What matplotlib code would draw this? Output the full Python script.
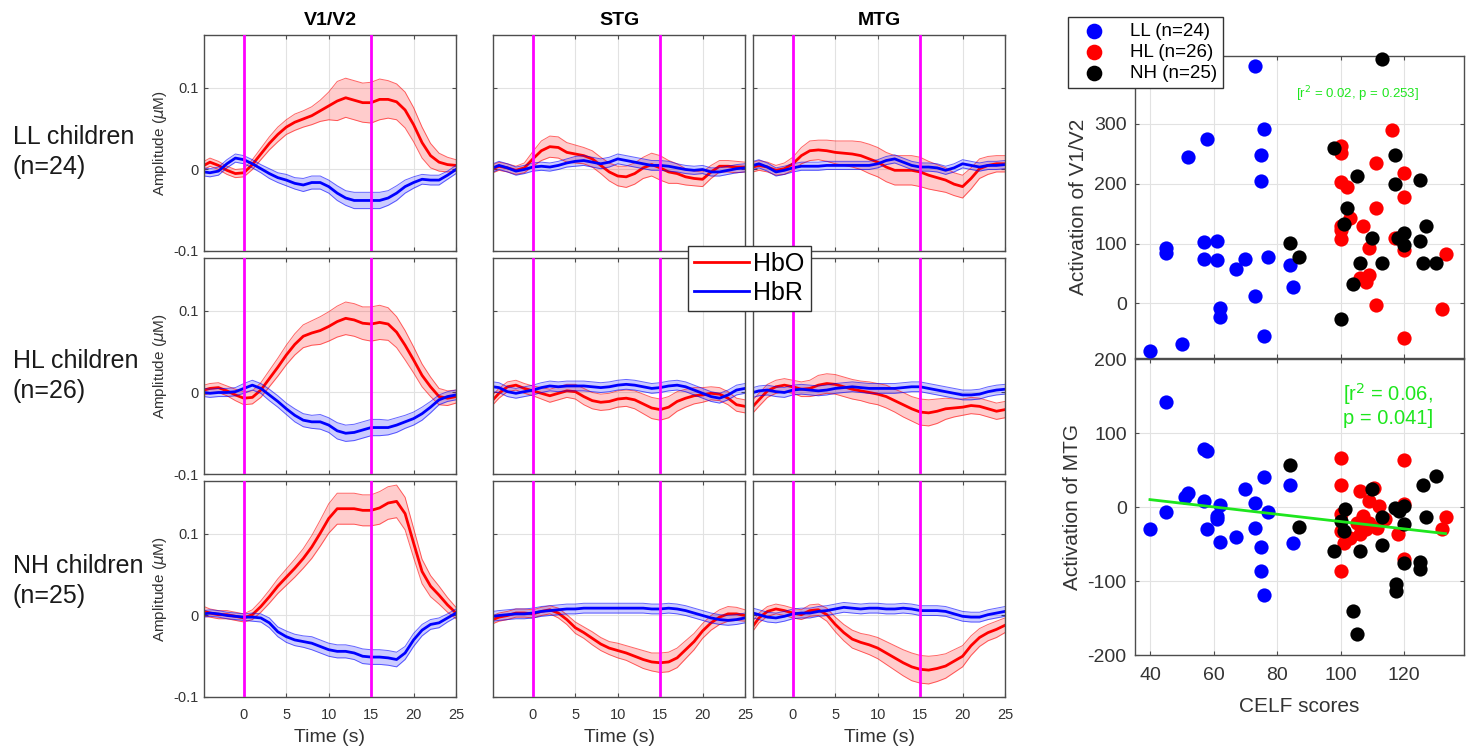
"""fNIRS group averages (HbO / HbR) per region and activation vs CELF scores."""
import matplotlib

matplotlib.use("Agg")
import matplotlib.pyplot as plt
import numpy as np
from matplotlib.lines import Line2D

plt.rcParams.update({"font.family": ["Liberation Sans", "DejaVu Sans"],
                     "axes.unicode_minus": False, "mathtext.fontset": "dejavusans"})

RED, BLUE, MAGENTA, GREEN = "#ff0000", "#0000ff", "#ff00ff", "#1ee61e"
SPINE, TICKC, GRIDC = "#4d4d4d", "#333333", "#e2e2e2"
W, H = 1471, 753

# ---- time courses (values in 1e-3 uM) ----
TIME = [-4.7, -4, -3, -2, -1, 0, 1, 2, 3, 4, 5, 6, 7, 8, 9, 10, 11, 12, 13, 14,
        15, 16, 17, 18, 19, 20, 21, 22, 23, 24, 25]

V1_LL_HBO = [5, 9, 5, -1, -5, -4, 6, 19, 32, 43, 52, 58, 62, 66, 72, 78, 84, 88, 85, 82,
             82, 86, 86, 83, 73, 55, 33, 17, 9, 6, 5]
V1_LL_HBO_SE = [5, 5, 5, 5, 5, 5, 6, 7, 8, 9, 9, 10, 10, 11, 13, 17, 24, 24, 24, 24,
                25, 25, 23, 22, 22, 21, 19, 15, 11, 9, 7]
V1_LL_HBR = [-3, -4, -2, 7, 14, 12, 7, 1, -5, -10, -13, -17, -19, -16, -16, -21, -29, -35, -38, -38,
             -38, -38, -35, -29, -21, -16, -12, -13, -13, -7, 0]
V1_LL_HBR_SE = [5, 5, 5, 5, 5, 5, 5, 5, 6, 6, 7, 7, 8, 8, 8, 8, 9, 9, 10, 10,
                10, 10, 9, 9, 8, 7, 6, 6, 6, 5, 5]

V1_HL_HBO = [3, 5, 6, 2, -3, -7, -6, 3, 17, 31, 46, 59, 69, 73, 76, 81, 87, 91, 89, 85,
             84, 86, 84, 74, 58, 40, 21, 7, -5, -7, -5]
V1_HL_HBO_SE = [6, 6, 6, 6, 7, 8, 8, 9, 10, 11, 12, 13, 14, 15, 17, 18, 19, 20, 20, 20,
                21, 21, 20, 19, 18, 16, 14, 12, 10, 9, 8]
V1_HL_HBR = [0, -1, 0, 0, 1, 5, 9, 5, -3, -11, -20, -28, -34, -36, -36, -40, -47, -50, -49, -46,
             -43, -43, -43, -40, -36, -32, -26, -18, -9, -5, -3]
V1_HL_HBR_SE = [5, 5, 5, 5, 5, 6, 6, 6, 7, 7, 7, 8, 8, 8, 9, 9, 10, 10, 10, 10,
                10, 10, 9, 9, 8, 8, 8, 7, 6, 6, 6]

V1_NH_HBO = [5, 3, 1, 1, -1, -3, 1, 11, 23, 36, 47, 58, 70, 84, 101, 119, 131, 131, 131, 129,
             129, 132, 138, 140, 125, 89, 54, 36, 25, 13, 3]
V1_NH_HBO_SE = [6, 5, 5, 5, 5, 5, 6, 7, 8, 9, 10, 11, 12, 14, 16, 18, 19, 19, 19, 19,
                19, 20, 20, 20, 20, 18, 15, 13, 11, 9, 7]
V1_NH_HBR = [2, 3, 2, 0, -1, -2, -2, -3, -9, -20, -26, -30, -32, -34, -38, -42, -44, -44, -46, -50,
             -51, -51, -52, -54, -46, -30, -18, -11, -9, -3, 3]
V1_NH_HBR_SE = [4, 4, 4, 4, 4, 4, 5, 5, 6, 6, 7, 7, 7, 8, 8, 8, 8, 8, 8, 9,
                9, 9, 9, 9, 8, 8, 7, 6, 6, 5, 5]

STG_LL_HBO = [1, 4, 2, -1, 2, 13, 23, 28, 27, 21, 19, 17, 13, 5, -3, -8, -9, -5, 2, 6,
              2, -3, -5, -9, -11, -12, -3, 4, 4, 3, 3]
STG_LL_HBO_SE = [5, 5, 5, 5, 6, 9, 12, 13, 13, 12, 11, 10, 10, 10, 11, 12, 13, 13, 13, 14,
                 15, 14, 12, 10, 9, 9, 8, 7, 7, 7, 6]
STG_LL_HBR = [2, 5, 2, -2, 0, 3, 4, 3, 5, 8, 10, 11, 9, 7, 9, 13, 11, 9, 7, 5,
              5, 4, 2, 0, -1, 0, -3, -3, -1, 1, 2]
STG_LL_HBR_SE = [5, 5, 5, 5, 5, 5, 5, 5, 5, 5, 6, 6, 6, 6, 6, 6, 6, 6, 6, 6,
                 6, 6, 5, 5, 5, 5, 5, 5, 5, 5, 5]

STG_HL_HBO = [-9, -1, 7, 9, 5, 2, -1, -4, -1, 2, 1, -5, -10, -12, -11, -8, -7, -9, -14, -19,
              -21, -18, -11, -7, -4, -3, -1, -2, -7, -15, -17]
STG_HL_HBO_SE = [6, 6, 6, 6, 6, 6, 7, 8, 8, 8, 9, 10, 10, 10, 10, 10, 10, 11, 12, 13,
                 13, 13, 12, 11, 10, 9, 8, 8, 8, 8, 8]
STG_HL_HBR = [7, 6, 1, -1, 1, 3, 6, 8, 7, 8, 8, 8, 7, 6, 7, 9, 10, 9, 7, 5,
              6, 8, 9, 7, 3, -1, -5, -7, -3, 3, 5]
STG_HL_HBR_SE = [6, 6, 6, 6, 6, 6, 6, 6, 6, 6, 6, 6, 6, 6, 6, 6, 6, 6, 6, 6,
                 6, 6, 6, 6, 6, 6, 6, 6, 6, 6, 6]

STG_NH_HBO = [-5, -2, 0, 3, 3, 2, 5, 7, 3, -5, -15, -21, -28, -35, -40, -43, -46, -50, -54, -57,
              -58, -57, -52, -42, -32, -19, -9, -2, 2, 2, 0]
STG_NH_HBO_SE = [5, 5, 5, 5, 5, 5, 5, 5, 6, 6, 7, 7, 8, 8, 8, 9, 9, 10, 11, 11,
                 12, 12, 12, 11, 10, 9, 9, 9, 9, 8, 7]
STG_NH_HBR = [-1, 0, 1, 2, 2, 3, 5, 6, 7, 8, 8, 9, 9, 9, 9, 9, 9, 9, 9, 8,
              8, 9, 8, 6, 3, 0, -3, -5, -6, -5, -3]
STG_NH_HBR_SE = [6, 6, 6, 6, 6, 6, 6, 6, 6, 6, 6, 6, 6, 6, 6, 6, 6, 6, 6, 6,
                 6, 6, 6, 6, 6, 6, 6, 6, 6, 6, 6]

MTG_LL_HBO = [3, 5, 3, -1, 1, 7, 17, 23, 24, 23, 21, 20, 19, 17, 13, 9, 3, -1, -1, -1,
              -3, -7, -10, -13, -18, -21, -11, 1, 5, 7, 7]
MTG_LL_HBO_SE = [6, 6, 6, 6, 7, 8, 10, 12, 12, 13, 14, 15, 16, 17, 18, 18, 18, 18, 18, 18,
                 18, 17, 16, 15, 14, 14, 13, 12, 11, 10, 10]
MTG_LL_HBR = [5, 7, 3, -3, -1, 2, 4, 4, 4, 5, 5, 5, 5, 5, 5, 7, 11, 13, 9, 5,
              3, 3, 2, -1, 2, 7, 5, 3, 5, 5, 6]
MTG_LL_HBR_SE = [5, 5, 5, 5, 5, 5, 5, 5, 5, 5, 5, 5, 5, 5, 5, 5, 5, 5, 5, 5,
                 5, 5, 5, 5, 5, 5, 5, 5, 5, 5, 5]

MTG_HL_HBO = [-17, -9, 2, 7, 9, 7, 4, 5, 9, 11, 10, 7, 4, 2, 0, -2, -5, -10, -15, -20,
              -24, -25, -23, -20, -19, -18, -16, -17, -20, -23, -21]
MTG_HL_HBO_SE = [8, 8, 8, 8, 8, 8, 9, 10, 12, 12, 12, 12, 12, 12, 13, 13, 14, 14, 15, 15,
                 16, 16, 15, 13, 11, 10, 10, 10, 10, 10, 10]
MTG_HL_HBR = [0, 2, 3, 1, 0, 3, 4, 3, 2, 3, 5, 6, 7, 6, 5, 5, 5, 5, 6, 7,
              7, 5, 3, 1, -1, -3, -3, -2, 1, 3, 4]
MTG_HL_HBR_SE = [6, 6, 6, 6, 6, 6, 6, 6, 6, 6, 6, 6, 6, 6, 6, 6, 6, 6, 6, 6,
                 6, 6, 6, 6, 6, 6, 6, 6, 6, 6, 6]

MTG_NH_HBO = [-13, -3, 5, 8, 6, 3, 1, 6, 7, 1, -11, -21, -29, -33, -36, -40, -46, -52, -58, -63,
              -66, -67, -65, -62, -56, -50, -37, -27, -21, -17, -12]
MTG_NH_HBO_SE = [6, 6, 6, 6, 6, 6, 6, 7, 7, 8, 9, 10, 11, 11, 12, 13, 14, 15, 16, 17,
                 17, 17, 16, 15, 14, 13, 12, 11, 10, 10, 9]
MTG_NH_HBR = [3, 1, -2, -3, -1, 2, 3, 3, 5, 6, 8, 10, 9, 8, 9, 9, 8, 8, 9, 8,
              6, 6, 6, 5, 2, -1, -2, -2, 1, 3, 5]
MTG_NH_HBR_SE = [6, 6, 6, 6, 6, 6, 6, 6, 6, 6, 6, 6, 6, 6, 6, 6, 6, 6, 6, 6,
                 6, 6, 6, 6, 6, 6, 6, 6, 6, 6, 6]

GROUPS = ["LL", "HL", "NH"]
GROUP_LABELS = ["LL children\n(n=24)", "HL children\n(n=26)", "NH children\n(n=25)"]
REGIONS = ["V1/V2", "STG", "MTG"]
TIME_TICKS = [0, 5, 10, 15, 20, 25]
AMP_TICKS = [-0.1, 0, 0.1]
AMP_TICKLABELS = ["-0.1", "0", "0.1"]
STIM_ON, STIM_OFF = 0, 15

# ---- scatter: activation vs CELF ----
LL_CELF_V1 = [73, 76, 58, 52, 75, 75, 45, 45, 57, 61, 57, 61, 67, 70, 77, 84, 85, 73, 62, 62, 76, 50, 40]
LL_V1 = [397, 291, 275, 244, 247, 205, 92, 84, 102, 105, 75, 72, 57, 74, 78, 64, 27, 12, -8, -22, -55, -67, -79]
HL_CELF_V1 = [116, 100, 100, 111, 100, 102, 120, 120, 111, 100, 103, 107, 100, 109, 117, 120, 133, 109,
              108, 111, 132, 120, 106, 100]
HL_V1 = [290, 262, 251, 234, 203, 195, 217, 177, 159, 129, 142, 129, 107, 93, 110, 89, 82, 47,
         36, -3, -10, -57, 42, 122]
NH_CELF_V1 = [113, 98, 105, 117, 117, 125, 102, 101, 110, 120, 120, 125, 127, 106, 113, 126, 130, 104,
              100, 84, 87, 118]
NH_V1 = [408, 260, 212, 247, 200, 206, 160, 132, 110, 117, 97, 104, 130, 67, 68, 68, 68, 32,
         -26, 101, 77, 110]

LL_CELF_MTG = [45, 57, 58, 76, 84, 70, 52, 51, 57, 62, 73, 77, 61, 61, 45, 40, 58, 73, 62, 67, 85, 75, 75, 76]
LL_MTG = [142, 79, 76, 40, 30, 25, 19, 13, 8, 3, 6, -7, -12, -16, -7, -30, -30, -28, -47, -41, -48, -54, -87, -119]
HL_CELF_MTG = [100, 120, 100, 106, 110.5, 109, 112, 120, 100, 107, 133, 100, 108, 111.5, 118, 132, 101, 120,
               100, 105, 114, 109, 106, 103]
HL_MTG = [66, 63, 30, 21, 26, 8, 1, 4, -10, -12, -14, -32, -30, -28, -37, -30, -48, -70,
          -87, -21, -16, -21, -37, -42]
NH_CELF_MTG = [84, 130, 126, 110, 101.5, 120, 117, 113, 127, 100, 101, 120, 87, 98, 106, 113, 120, 125,
               125, 117.5, 117.5, 104, 105, 118.5]
NH_MTG = [57, 42, 30, 24, -3, 1, -1, -14, -14, -19, -32, -23, -27, -60, -59, -51, -75, -74,
          -84, -104, -114, -141, -172, -5]
FIT_CELF = [40, 133]
FIT_MTG = [10, -36]

SCATTER_LABELS = ["LL (n=24)", "HL (n=26)", "NH (n=25)"]
CELF_TICKS = [40, 60, 80, 100, 120]

CURVES = {
    ("LL", "V1/V2"): (V1_LL_HBO, V1_LL_HBO_SE, V1_LL_HBR, V1_LL_HBR_SE),
    ("HL", "V1/V2"): (V1_HL_HBO, V1_HL_HBO_SE, V1_HL_HBR, V1_HL_HBR_SE),
    ("NH", "V1/V2"): (V1_NH_HBO, V1_NH_HBO_SE, V1_NH_HBR, V1_NH_HBR_SE),
    ("LL", "STG"): (STG_LL_HBO, STG_LL_HBO_SE, STG_LL_HBR, STG_LL_HBR_SE),
    ("HL", "STG"): (STG_HL_HBO, STG_HL_HBO_SE, STG_HL_HBR, STG_HL_HBR_SE),
    ("NH", "STG"): (STG_NH_HBO, STG_NH_HBO_SE, STG_NH_HBR, STG_NH_HBR_SE),
    ("LL", "MTG"): (MTG_LL_HBO, MTG_LL_HBO_SE, MTG_LL_HBR, MTG_LL_HBR_SE),
    ("HL", "MTG"): (MTG_HL_HBO, MTG_HL_HBO_SE, MTG_HL_HBR, MTG_HL_HBR_SE),
    ("NH", "MTG"): (MTG_NH_HBO, MTG_NH_HBO_SE, MTG_NH_HBR, MTG_NH_HBR_SE),
}

# panel boxes in pixels (x0, x1) / (y0, y1)
COL_X = [(204, 456), (493, 745), (753, 1005)]
ROW_Y = [(35, 251), (258, 474), (481, 697)]
LABEL_Y = [152, 376, 581]


def box(x0, y0, x1, y1):
    return [x0 / W, 1 - y1 / H, (x1 - x0) / W, (y1 - y0) / H]


def style(ax, size):
    for s in ax.spines.values():
        s.set_color(SPINE)
        s.set_linewidth(1)
    ax.tick_params(direction="in", length=3, top=True, right=True, color=SPINE,
                   labelcolor=TICKC, labelsize=size)
    ax.grid(True, color=GRIDC, linewidth=0.8)
    ax.set_axisbelow(True)


def band(ax, t, vals, se, color):
    m = np.asarray(vals) * 1e-3
    s = np.asarray(se) * 1e-3
    ax.fill_between(t, m - s, m + s, color=color, alpha=0.2, linewidth=0)
    ax.plot(t, m - s, color=color, linewidth=0.7, alpha=0.6)
    ax.plot(t, m + s, color=color, linewidth=0.7, alpha=0.6)
    ax.plot(t, m, color=color, linewidth=2)


fig = plt.figure(figsize=(W / 100, H / 100), dpi=100)
t = np.asarray(TIME)

for r, grp in enumerate(GROUPS):
    y0, y1 = ROW_Y[r]
    for c, reg in enumerate(REGIONS):
        x0, x1 = COL_X[c]
        ax = fig.add_axes(box(x0, y0, x1, y1))
        hbo, hbo_se, hbr, hbr_se = CURVES[(grp, reg)]
        band(ax, t, hbo, hbo_se, RED)
        band(ax, t, hbr, hbr_se, BLUE)
        for xv in (STIM_ON, STIM_OFF):
            ax.axvline(xv, color=MAGENTA, linewidth=2, zorder=6)
        ax.set_xlim(-4.7, 25)
        ax.set_ylim(-0.1, 0.165)
        ax.set_xticks(TIME_TICKS)
        ax.set_yticks(AMP_TICKS)
        style(ax, 10.5)
        ax.tick_params(axis="y", pad=4)
        ax.tick_params(axis="x", pad=8)
        if c == 0:
            ax.set_yticklabels(AMP_TICKLABELS)
            ax.set_ylabel("Amplitude ($\\mu$M)", fontsize=11, color=TICKC, labelpad=3)
        else:
            ax.set_yticklabels([])
        if r == 2:
            ax.set_xticklabels([str(v) for v in TIME_TICKS])
            ax.set_xlabel("Time (s)", fontsize=14, color=TICKC, labelpad=5)
        else:
            ax.set_xticklabels([])
        if r == 0:
            ax.set_title(reg, fontsize=14, fontweight="bold", pad=7)
    fig.text(13 / W, 1 - LABEL_Y[r] / H, GROUP_LABELS[r], fontsize=18, ha="left",
             va="center", color="#1a1a1a", linespacing=1.3)

fig.legend(handles=[Line2D([], [], color=RED, linewidth=2),
                    Line2D([], [], color=BLUE, linewidth=2)],
           labels=["HbO", "HbR"], loc="upper left",
           bbox_to_anchor=(688 / W, 1 - 246 / H), fontsize=18, fancybox=False,
           framealpha=1, edgecolor="#333333", borderaxespad=0, borderpad=0.25,
           labelspacing=0.2, handlelength=2.2, handletextpad=0.15)

# ---- scatter panels ----
MS = 105
ax1 = fig.add_axes(box(1135, 56, 1464, 358))
h_ll = ax1.scatter(LL_CELF_V1, LL_V1, s=MS, color=BLUE, linewidths=0, clip_on=False, zorder=3)
h_hl = ax1.scatter(HL_CELF_V1, HL_V1, s=MS, color=RED, linewidths=0, clip_on=False, zorder=3)
h_nh = ax1.scatter(NH_CELF_V1, NH_V1, s=MS, color="black", linewidths=0, clip_on=False, zorder=3)
ax1.set_xlim(35.3, 138.8)
ax1.set_ylim(-91, 413)
ax1.set_xticks(CELF_TICKS)
ax1.set_xticklabels([])
ax1.set_yticks([0, 100, 200, 300])
style(ax1, 14)
ax1.tick_params(axis="y", pad=6)
ax1.set_ylabel("Activation of V1/V2", fontsize=15, color=TICKC)
ax1.text(105.4, 350, "[r$^2$ = 0.02, p = 0.253]", color=GREEN, fontsize=9.5,
         ha="center", va="center")
ax1.legend([h_ll, h_hl, h_nh], SCATTER_LABELS, loc="upper left",
           bbox_to_anchor=(1068 / W, 1 - 17 / H), bbox_transform=fig.transFigure,
           fontsize=13.5, fancybox=False, framealpha=1, edgecolor="#333333",
           borderaxespad=0, borderpad=0.3, labelspacing=0.22, handletextpad=0.8,
           handlelength=2.2, scatterpoints=1, markerscale=1.1)

ax2 = fig.add_axes(box(1135, 359, 1464, 655))
ax2.scatter(LL_CELF_MTG, LL_MTG, s=MS, color=BLUE, linewidths=0, zorder=3)
ax2.scatter(HL_CELF_MTG, HL_MTG, s=MS, color=RED, linewidths=0, zorder=3)
ax2.scatter(NH_CELF_MTG, NH_MTG, s=MS, color="black", linewidths=0, zorder=3)
ax2.plot(FIT_CELF, FIT_MTG, color=GREEN, linewidth=2, zorder=4)
ax2.set_xlim(35.3, 138.8)
ax2.set_ylim(-200, 200)
ax2.set_xticks(CELF_TICKS)
ax2.set_yticks([-200, -100, 0, 100, 200])
style(ax2, 14)
ax2.tick_params(axis="y", pad=6)
ax2.tick_params(axis="x", pad=9)
ax2.set_xlabel("CELF scores", fontsize=15, color=TICKC, labelpad=9)
ax2.set_ylabel("Activation of MTG", fontsize=15, color=TICKC)
ax2.text(100.7, 170, "[r$^2$ = 0.06,\np = 0.041]", color=GREEN, fontsize=14.5,
         ha="left", va="top", linespacing=1.1)

fig.savefig("out.png", dpi=100)
